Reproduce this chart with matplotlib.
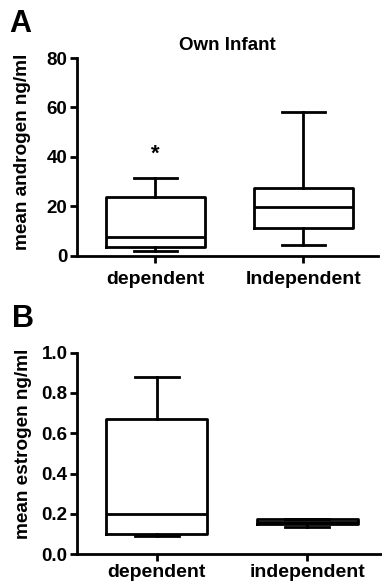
import matplotlib
matplotlib.use("Agg")
import matplotlib.pyplot as plt

plt.rcParams["font.family"] = ["Liberation Sans", "DejaVu Sans"]
plt.rcParams["font.weight"] = "bold"

# panel A: androgen
grupos_a = ["dependent", "Independent"]
andro_wlo = [2.1, 4.4]
andro_q1 = [3.8, 11.4]
andro_med = [7.5, 19.9]
andro_q3 = [23.8, 27.6]
andro_whi = [31.6, 58.3]
andro_sig = [41, None]

# panel B: estrogen
grupos_b = ["dependent", "independent"]
estro_wlo = [0.09, 0.132]
estro_q1 = [0.099, 0.15]
estro_med = [0.199, 0.16]
estro_q3 = [0.669, 0.172]
estro_whi = [0.879, 0.176]

LW = 2.0


def stats(wlo, q1, med, q3, whi, labels):
    out = []
    for i in range(len(labels)):
        out.append({"whislo": wlo[i], "q1": q1[i], "med": med[i], "q3": q3[i],
                    "whishi": whi[i], "label": labels[i], "fliers": []})
    return out


def estilo(ax, xpad):
    for s in ["top", "right"]:
        ax.spines[s].set_visible(False)
    for s in ["left", "bottom"]:
        ax.spines[s].set_linewidth(LW)
    ax.tick_params(axis="both", width=LW, length=5, labelsize=13.5)
    ax.tick_params(axis="x", labelsize=14, pad=xpad)
    ax.tick_params(axis="y", pad=2)
    for t in ax.get_xticklabels() + ax.get_yticklabels():
        t.set_fontweight("bold")


fig = plt.figure(figsize=(3.82, 5.83), dpi=100)
ax1 = fig.add_axes([0.202, 0.561, 0.788, 0.3395])
ax2 = fig.add_axes([0.202, 0.0497, 0.795, 0.3453])

lp = dict(color="black", linewidth=LW)
for ax, st in [(ax1, stats(andro_wlo, andro_q1, andro_med, andro_q3, andro_whi, grupos_a)),
               (ax2, stats(estro_wlo, estro_q1, estro_med, estro_q3, estro_whi, grupos_b))]:
    ax.bxp(st, positions=[1, 2], widths=0.67, capwidths=0.29, showfliers=False,
           boxprops=lp, whiskerprops=lp, capprops=lp, medianprops=lp)

ax1.set_xlim(0.473, 2.507)
ax1.set_ylim(0, 80)
ax1.set_yticks([0, 20, 40, 60, 80])
ax1.set_title("Own Infant", fontsize=13.5, fontweight="bold", pad=6)
for i, v in enumerate(andro_sig):
    if v is not None:
        ax1.text(i + 1, v, "*", ha="center", va="center", fontsize=16, fontweight="bold")

ax2.set_xlim(0.47, 2.49)
ax2.set_ylim(0, 1.0)
ax2.set_yticks([0.0, 0.2, 0.4, 0.6, 0.8, 1.0])
ax2.set_yticklabels(["0.0", "0.2", "0.4", "0.6", "0.8", "1.0"])

estilo(ax1, 6)
estilo(ax2, 2.5)

fig.text(23 / 382, 1 - 152 / 583, "mean androgen ng/ml", fontsize=13.7, fontweight="bold",
         rotation=90, ha="center", va="center")
fig.text(24 / 382, 1 - 443.5 / 583, "mean estrogen ng/ml", fontsize=13.7, fontweight="bold",
         rotation=90, ha="center", va="center")

fig.text(0.025, 0.959, "A", fontsize=22, fontweight="bold", va="center")
fig.text(0.032, 0.453, "B", fontsize=22, fontweight="bold", va="center")

fig.savefig("out.png", dpi=100)
